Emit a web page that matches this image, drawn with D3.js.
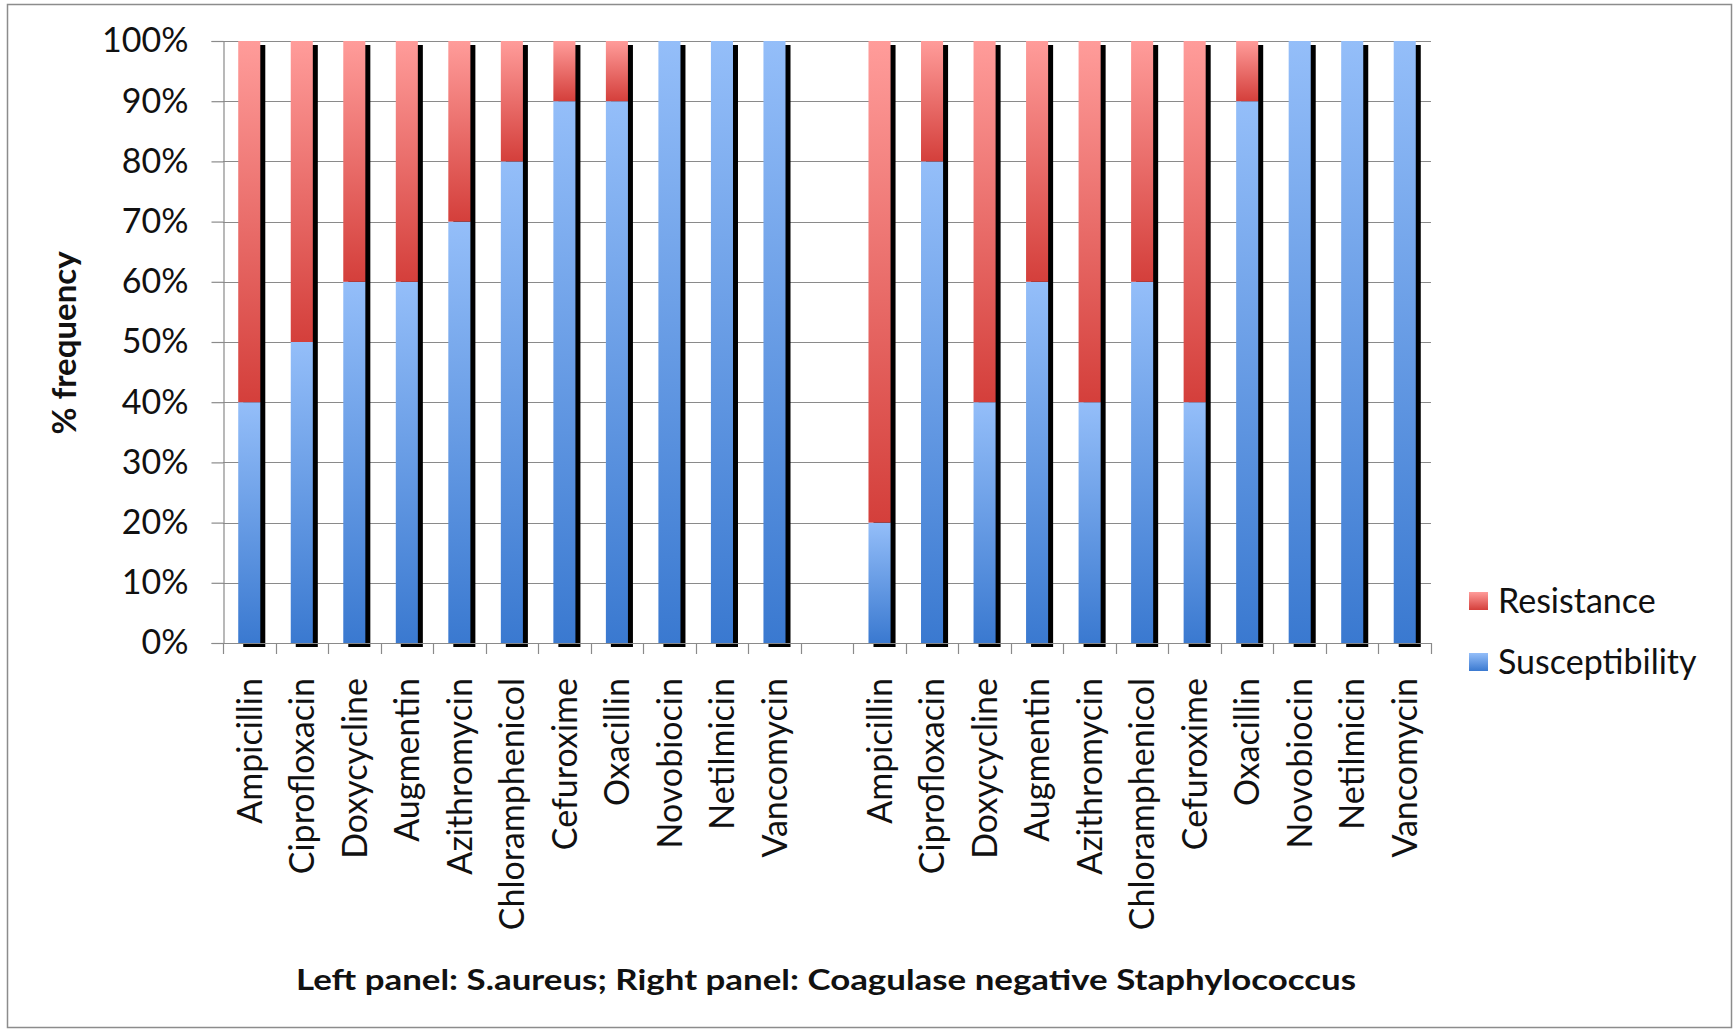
<!DOCTYPE html>
<html>
<head>
<meta charset="utf-8">
<script src="https://cdn.jsdelivr.net/npm/d3@7"></script>
<style>
  html, body { margin: 0; padding: 0; background: #ffffff; }
  svg { display: block; }
  text { font-family: Lato, "Open Sans", sans-serif; fill: #111; }
</style>
</head>
<body>
<svg id="chart" width="1736" height="1030"></svg>
<script>
// Antibiotics tested in both panels
const drugs = ["Ampicillin", "Ciprofloxacin", "Doxycycline", "Augmentin", "Azithromycin",
  "Chloramphenicol", "Cefuroxime", "Oxacillin", "Novobiocin", "Netilmicin", "Vancomycin"];

// Left panel: S. aureus (% of isolates)
const aureusSusceptibility = [40, 50, 60, 60, 70, 80, 90, 90, 100, 100, 100];
const aureusResistance     = [60, 50, 40, 40, 30, 20, 10, 10, 0, 0, 0];

// Right panel: coagulase negative Staphylococcus (% of isolates)
const consSusceptibility = [20, 80, 40, 60, 40, 60, 40, 90, 100, 100, 100];
const consResistance     = [80, 20, 60, 40, 60, 40, 60, 10, 0, 0, 0];

const yTicks = [0, 10, 20, 30, 40, 50, 60, 70, 80, 90, 100];
const seriesNames = ["Resistance", "Susceptibility"];
const xTitle = "Left panel: S.aureus; Right panel: Coagulase negative Staphylococcus";
const yTitle = "% frequency";

// One slot per bar, with an empty slot separating the two panels
const rows = [];
drugs.forEach((d, i) => rows.push({ key: "a" + i, name: d, sus: aureusSusceptibility[i], res: aureusResistance[i] }));
rows.push({ key: "gap", name: "", sus: null, res: null });
drugs.forEach((d, i) => rows.push({ key: "c" + i, name: d, sus: consSusceptibility[i], res: consResistance[i] }));

const svg = d3.select("#chart");
const plotLeft = 223, plotRight = 1431, plotTop = 41, plotBottom = 643;
const labelSize = 34;

const x = d3.scaleBand().domain(rows.map(r => r.key)).range([plotLeft, plotRight])
  .paddingInner(0.58).paddingOuter(0.29);
const y = d3.scaleLinear().domain([0, 100]).range([plotBottom, plotTop]);

// Outer chart frame
svg.append("rect").attr("x", 7.5).attr("y", 4.5).attr("width", 1724).attr("height", 1023)
  .attr("fill", "#fff").attr("stroke", "#8c8c8c").attr("stroke-width", 1.5);

// Vertical gradients, light at the top of each segment, darker at the bottom
const defs = svg.append("defs");
function grad(id, c0, c1) {
  const g = defs.append("linearGradient").attr("id", id)
    .attr("x1", 0).attr("y1", 0).attr("x2", 0).attr("y2", 1);
  g.append("stop").attr("offset", "0%").attr("stop-color", c0);
  g.append("stop").attr("offset", "100%").attr("stop-color", c1);
}
grad("gRes", "#ff9c9a", "#d43f3b");
grad("gSus", "#94bef9", "#3a79d0");

// Horizontal gridlines
svg.append("g").selectAll("line").data(yTicks).join("line")
  .attr("x1", plotLeft).attr("x2", plotRight)
  .attr("y1", d => Math.round(y(d)) + 0.5).attr("y2", d => Math.round(y(d)) + 0.5)
  .attr("stroke", "#8a8a8a").attr("stroke-width", 1.2);

// Y axis with percentage labels
const yAxis = svg.append("g").attr("transform", `translate(${plotLeft + 0.5},0)`)
  .call(d3.axisLeft(y).tickValues(yTicks).tickSize(12).tickPadding(23).tickFormat(d => d + "%"));
yAxis.select(".domain").attr("stroke", "#8a8a8a").attr("stroke-width", 1.2);
yAxis.selectAll(".tick line").attr("stroke", "#8a8a8a").attr("stroke-width", 1.2);
yAxis.selectAll(".tick text").attr("font-size", labelSize).attr("fill", "#111")
  .attr("font-family", "Lato, 'Open Sans', sans-serif");

// Bars: drop shadow first, then stacked segments
const bars = rows.filter(r => r.sus !== null);
const gBars = svg.append("g");
gBars.selectAll("rect.shadow").data(bars).join("rect").attr("class", "shadow")
  .attr("x", d => x(d.key) + 5).attr("y", d => y(d.sus + d.res) + 4)
  .attr("width", x.bandwidth()).attr("height", d => y(0) - y(d.sus + d.res))
  .attr("fill", "#000");
gBars.selectAll("rect.sus").data(bars.filter(d => d.sus > 0)).join("rect").attr("class", "sus")
  .attr("x", d => x(d.key)).attr("y", d => y(d.sus))
  .attr("width", x.bandwidth()).attr("height", d => y(0) - y(d.sus))
  .attr("fill", "url(#gSus)");
gBars.selectAll("rect.res").data(bars.filter(d => d.res > 0)).join("rect").attr("class", "res")
  .attr("x", d => x(d.key)).attr("y", d => y(d.sus + d.res))
  .attr("width", x.bandwidth()).attr("height", d => y(d.sus) - y(d.sus + d.res))
  .attr("fill", "url(#gRes)");

// X axis baseline and slot boundary ticks
const step = x.step();
const bounds = d3.range(rows.length + 1).map(i => plotLeft + i * step);
svg.append("line").attr("x1", plotLeft).attr("x2", plotRight)
  .attr("y1", plotBottom + 0.5).attr("y2", plotBottom + 0.5)
  .attr("stroke", "#8a8a8a").attr("stroke-width", 1.2);
svg.append("g").selectAll("line").data(bounds).join("line")
  .attr("x1", d => Math.round(d) + 0.5).attr("x2", d => Math.round(d) + 0.5)
  .attr("y1", plotBottom).attr("y2", plotBottom + 11)
  .attr("stroke", "#8a8a8a").attr("stroke-width", 1.2);

// Rotated drug names
svg.append("g").selectAll("text").data(bars).join("text")
  .attr("transform", d => `translate(${x(d.key) + x.bandwidth() / 2},678) rotate(-90)`)
  .attr("text-anchor", "end").attr("dy", "0.36em")
  .attr("font-size", labelSize).text(d => d.name);

// Axis titles
svg.append("text").attr("transform", "translate(64,343) rotate(-90)")
  .attr("text-anchor", "middle").attr("dy", "0.36em")
  .attr("font-size", 33).attr("font-weight", "bold").text(yTitle);
svg.append("text").attr("x", 296).attr("y", 990)
  .attr("font-size", 29).attr("font-weight", "bold")
  .attr("textLength", 1060).attr("lengthAdjust", "spacingAndGlyphs").text(xTitle);

// Legend
const legend = svg.append("g");
const legendY = [601, 662];
seriesNames.forEach((name, i) => {
  legend.append("rect").attr("x", 1469).attr("y", legendY[i] - 9).attr("width", 19).attr("height", 18)
    .attr("fill", i === 0 ? "url(#gRes)" : "url(#gSus)");
  legend.append("text").attr("x", 1498).attr("y", legendY[i]).attr("dy", "0.36em")
    .attr("font-size", labelSize).text(name);
});
</script>
</body>
</html>
